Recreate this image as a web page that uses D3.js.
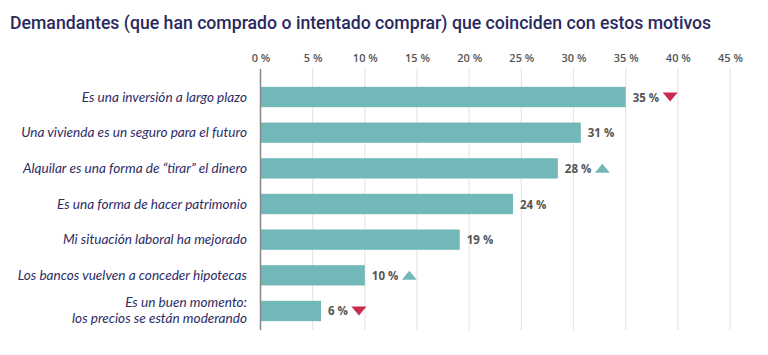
<!DOCTYPE html>
<html><head><meta charset="utf-8">
<script src="https://cdn.jsdelivr.net/npm/d3@7/dist/d3.min.js"></script>
<style>body{margin:0;background:#fff}svg{display:block}</style>
</head><body>
<script>
const title = "Demandantes (que han comprado o intentado comprar) que coinciden con estos motivos";
const categories = [
  ["Es una inversión a largo plazo"],
  ["Una vivienda es un seguro para el futuro"],
  ["Alquilar es una forma de “tirar” el dinero"],
  ["Es una forma de hacer patrimonio"],
  ["Mi situación laboral ha mejorado"],
  ["Los bancos vuelven a conceder hipotecas"],
  ["Es un buen momento:", "los precios se están moderando"]
];
// bar lengths as drawn in the picture, and the rounded labels shown next to them
const values = [35, 30.7, 28.5, 24.2, 19.1, 10, 5.8];
const labels = [35, 31, 28, 24, 19, 10, 6];
const trends = ["down", null, "up", null, null, "up", "down"];
const ticks = [0, 5, 10, 15, 20, 25, 30, 35, 40, 45];

const W = 768, H = 355;
const svg = d3.select("body").append("svg").attr("width", W).attr("height", H);

const x = d3.scaleLinear().domain([0, 45]).range([260.5, 730]);
const y = d3.scaleBand().domain(d3.range(categories.length)).range([79, 329]).paddingInner(0.43).paddingOuter(0.22);

const tt = svg.append("text").attr("x", 10).attr("y", 29)
  .attr("font-family", "Roboto").attr("font-weight", 500).attr("font-size", 19)
  .attr("fill", "#2a2960")
  .text(title);
const tw = tt.node().getComputedTextLength();
if (tw > 702) tt.attr("font-size", 19 * 702 / tw);

// grid
svg.append("g").selectAll("line").data(ticks.slice(1)).join("line")
  .attr("x1", d => x(d)).attr("x2", d => x(d)).attr("y1", 68).attr("y2", 330)
  .attr("stroke", "#e6e6e6").attr("stroke-width", 1.2);

// axis tick labels
const axis = d3.axisTop(x).tickValues(ticks).tickFormat(d => d + " %").tickSize(0).tickPadding(0);
const ag = svg.append("g").attr("transform", "translate(0,62)").call(axis);
ag.select(".domain").remove();
ag.selectAll("text").attr("font-family", "Open Sans").attr("font-weight", 600)
  .attr("font-size", 11).attr("fill", "#555");

// bars
svg.append("g").selectAll("rect").data(values).join("rect")
  .attr("x", x(0)).attr("y", (d, i) => y(i)).attr("width", d => x(d) - x(0))
  .attr("height", y.bandwidth()).attr("fill", "#73b8b9");

// axis line
svg.append("line").attr("x1", x(0)).attr("x2", x(0)).attr("y1", 69).attr("y2", 330)
  .attr("stroke", "#888").attr("stroke-width", 1.5);

// category labels
const cl = svg.append("g").selectAll("text").data(categories).join("text")
  .attr("x", 247).attr("text-anchor", "end")
  .attr("font-family", "Lato").attr("font-style", "italic").attr("font-size", 13.6)
  .attr("fill", "#2d2c66");
cl.each(function(lines, i) {
  const cy = y(i) + y.bandwidth() / 2;
  const t = d3.select(this);
  const n = lines.length;
  lines.forEach((s, k) => {
    t.append("tspan").attr("x", 247).attr("y", cy + 4.5 + (k - (n - 1) / 2) * 16).text(s);
  });
});

// value labels
const vl = svg.append("g").selectAll("text").data(values).join("text")
  .attr("x", d => x(d) + 7).attr("y", (d, i) => y(i) + y.bandwidth() / 2 + 4.5)
  .attr("font-family", "Open Sans").attr("font-weight", 700).attr("font-size", 11.5)
  .attr("fill", "#555").text((d, i) => labels[i] + " %");

// trend triangles
vl.each(function(d, i) {
  const tr = trends[i];
  if (!tr) return;
  const bb = this.getBBox();
  const cx = bb.x + bb.width + 11;
  const cy = y(i) + y.bandwidth() / 2;
  const w = 7.5, h = 9;
  const pts = tr === "down"
    ? [[cx - w, cy - h / 2], [cx + w, cy - h / 2], [cx, cy + h / 2]]
    : [[cx - w, cy + h / 2], [cx + w, cy + h / 2], [cx, cy - h / 2]];
  svg.append("path").attr("d", d3.line()(pts) + "Z")
    .attr("fill", tr === "down" ? "#c82a50" : "#73b8b9");
});
</script>
</body></html>
